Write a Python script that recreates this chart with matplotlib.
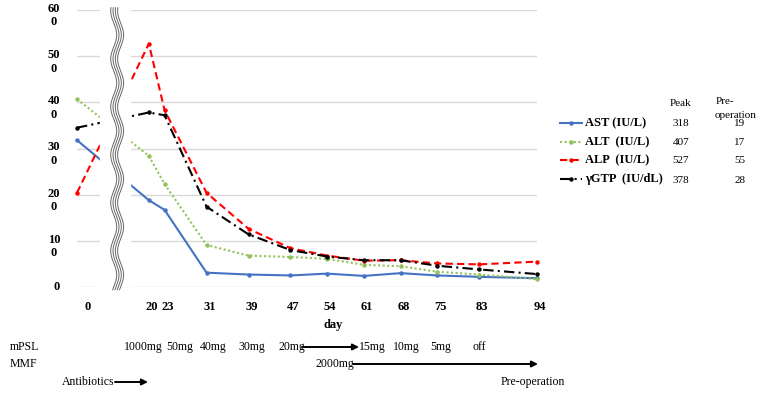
import numpy as np
import matplotlib
matplotlib.use('Agg')
import matplotlib.pyplot as plt
from matplotlib.lines import Line2D

# ---------------- data ----------------
days = [0, 20, 23, 31, 39, 47, 54, 61, 68, 75, 83, 94]
ast = [318, 188, 167, 31, 27, 25, 29, 24, 30, 25, 22, 19]
alt = [407, 284, 223, 91, 68, 65, 61, 48, 45, 33, 27, 17]
alp = [204, 527, 383, 204, 126, 84, 68, 57, 58, 51, 49, 55]
ggtp = [345, 378, 372, 174, 114, 80, 66, 58, 58, 46, 38, 28]
series_names = ['AST (IU/L)', 'ALT  (IU/L)', 'ALP  (IU/L)', '\u03b3GTP  (IU/dL)']
peak_vals = [318, 407, 527, 378]
preop_vals = [19, 17, 55, 28]
y_ticks = [0, 100, 200, 300, 400, 500, 600]
mpsl_labels = ['1000mg', '50mg', '40mg', '30mg', '20mg', '15mg', '10mg', '5mg', 'off']
mmf_label = '2000mg'

# ---------------- styles ----------------
W, H = 762, 394
SERIF = 'Liberation Serif'
colors = ['#4472C4', '#92C25A', '#FF0000', '#000000']
styles = ['-', (0, (1, 1.2)), (0, (3.5, 2)), (0, (5, 2, 1, 2))]

# broken axis: day 0 is drawn left of the break
DAY0_POS = 6.3
xpos = [DAY0_POS if d == 0 else d for d in days]

def fx(px):
    return px / W

def fy(py):
    return 1 - py / H

fig = plt.figure(figsize=(W / 100, H / 100), dpi=100)
ax = fig.add_axes([fx(77), fy(287), 460 / W, 277 / H])
ax.set_xlim(DAY0_POS, 94)
ax.set_ylim(0, 600)
for s in ax.spines.values():
    s.set_visible(False)
ax.set_xticks([])
ax.set_yticks([])
for v in y_ticks:
    ax.axhline(v, color='#D9D9D9', lw=1.0, zorder=1)

for vals, c, ls in zip([ast, alt, alp, ggtp], colors, styles):
    ax.plot(xpos, vals, color=c, linestyle=ls, lw=1.5, marker='o',
            markersize=3.2, markeredgewidth=0, zorder=3, clip_on=False)

# break: white gap with wavy lines
ax.axvspan(10.7, 16.4, ymin=-0.03, ymax=1.03, color='white', zorder=5, clip_on=False)
sx = 460 / (94 - DAY0_POS)   # px per day
sy = 277 / 600               # px per unit
yy = np.linspace(-6, 605, 600)
for k in range(4):
    xc = 13.3 + (k * 2.3) / sx
    xw = xc + (3.0 / sx) * np.sin(2 * np.pi * yy * sy / 48.0)
    ax.plot(xw, yy, color='#666666', lw=0.7, zorder=6, clip_on=False)

# y tick labels (wrapped like the original)
for v in y_ticks:
    if v == 0:
        ax.annotate('0', xy=(0, v), xycoords=('axes fraction', 'data'),
                    xytext=(-20 * 0.72, 0), textcoords='offset points',
                    ha='center', va='center', fontsize=9, fontweight='bold',
                    family=SERIF)
    else:
        s = str(v)
        ax.annotate(s[:-1] + '\n' + s[-1], xy=(0, v), xycoords=('axes fraction', 'data'),
                    xytext=(-23 * 0.72, 7 * 0.72), textcoords='offset points',
                    ha='center', va='top', fontsize=9, fontweight='bold',
                    family=SERIF, linespacing=1.15)

# x tick labels
for d, p in zip(days, xpos):
    dx = 11 if d == 0 else 3
    ax.annotate(str(d), xy=(p, 0), xycoords=('data', 'axes fraction'),
                xytext=(dx * 0.72, -20 * 0.72), textcoords='offset points',
                ha='center', va='center', fontsize=9, fontweight='bold', family=SERIF)
fig.text(fx(333), fy(325), 'day', ha='center', va='center', fontsize=9,
         fontweight='bold', family=SERIF)

# legend (drawn manually) + table
leg_y = [123, 142, 160, 179]
for name, c, ls, y in zip(series_names, colors, styles, leg_y):
    fig.add_artist(Line2D([fx(560), fx(582)], [fy(y), fy(y)], transform=fig.transFigure,
                          color=c, linestyle=ls, lw=1.5))
    fig.add_artist(Line2D([fx(571)], [fy(y)], transform=fig.transFigure, color=c,
                          marker='o', markersize=3.2, markeredgewidth=0))
    fig.text(fx(585), fy(y), name, ha='left', va='center', fontsize=9,
             fontweight='bold', family=SERIF)
fig.text(fx(681), fy(104), 'Peak', ha='center', va='center', fontsize=8, family=SERIF)
fig.text(fx(716), fy(102), 'Pre-', ha='left', va='center', fontsize=8, family=SERIF)
fig.text(fx(715), fy(116), 'operation', ha='left', va='center', fontsize=8, family=SERIF)
for pv, ov, y in zip(peak_vals, preop_vals, leg_y):
    fig.text(fx(681), fy(y + 1), str(pv), ha='center', va='center', fontsize=8, family=SERIF)
    fig.text(fx(740), fy(y + 1), str(ov), ha='center', va='center', fontsize=8, family=SERIF)

# treatment rows
fig.text(fx(10), fy(347), 'mPSL', ha='left', va='center', fontsize=8.5, family=SERIF)
fig.text(fx(10), fy(364), 'MMF', ha='left', va='center', fontsize=8.5, family=SERIF)
mpsl_px = [143, 180, 213, 252, 292, 372, 406, 441, 479]
for lab, px in zip(mpsl_labels, mpsl_px):
    fig.text(fx(px), fy(347), lab, ha='center', va='center', fontsize=8.5, family=SERIF)
fig.text(fx(335), fy(364), mmf_label, ha='center', va='center', fontsize=8.5, family=SERIF)
fig.text(fx(88), fy(382), 'Antibiotics', ha='center', va='center', fontsize=8.5, family=SERIF)
fig.text(fx(533), fy(382), 'Pre-operation', ha='center', va='center', fontsize=8.5, family=SERIF)

def arrow(x0, x1, y):
    fig.add_artist(matplotlib.patches.FancyArrowPatch(
        (fx(x0), fy(y)), (fx(x1), fy(y)), transform=fig.transFigure,
        arrowstyle='-|>', mutation_scale=9, color='black', lw=1.4,
        shrinkA=0, shrinkB=0))

arrow(302, 359, 347)
arrow(353, 538, 364)
arrow(115, 148, 382)

fig.savefig('out.png', dpi=100)
